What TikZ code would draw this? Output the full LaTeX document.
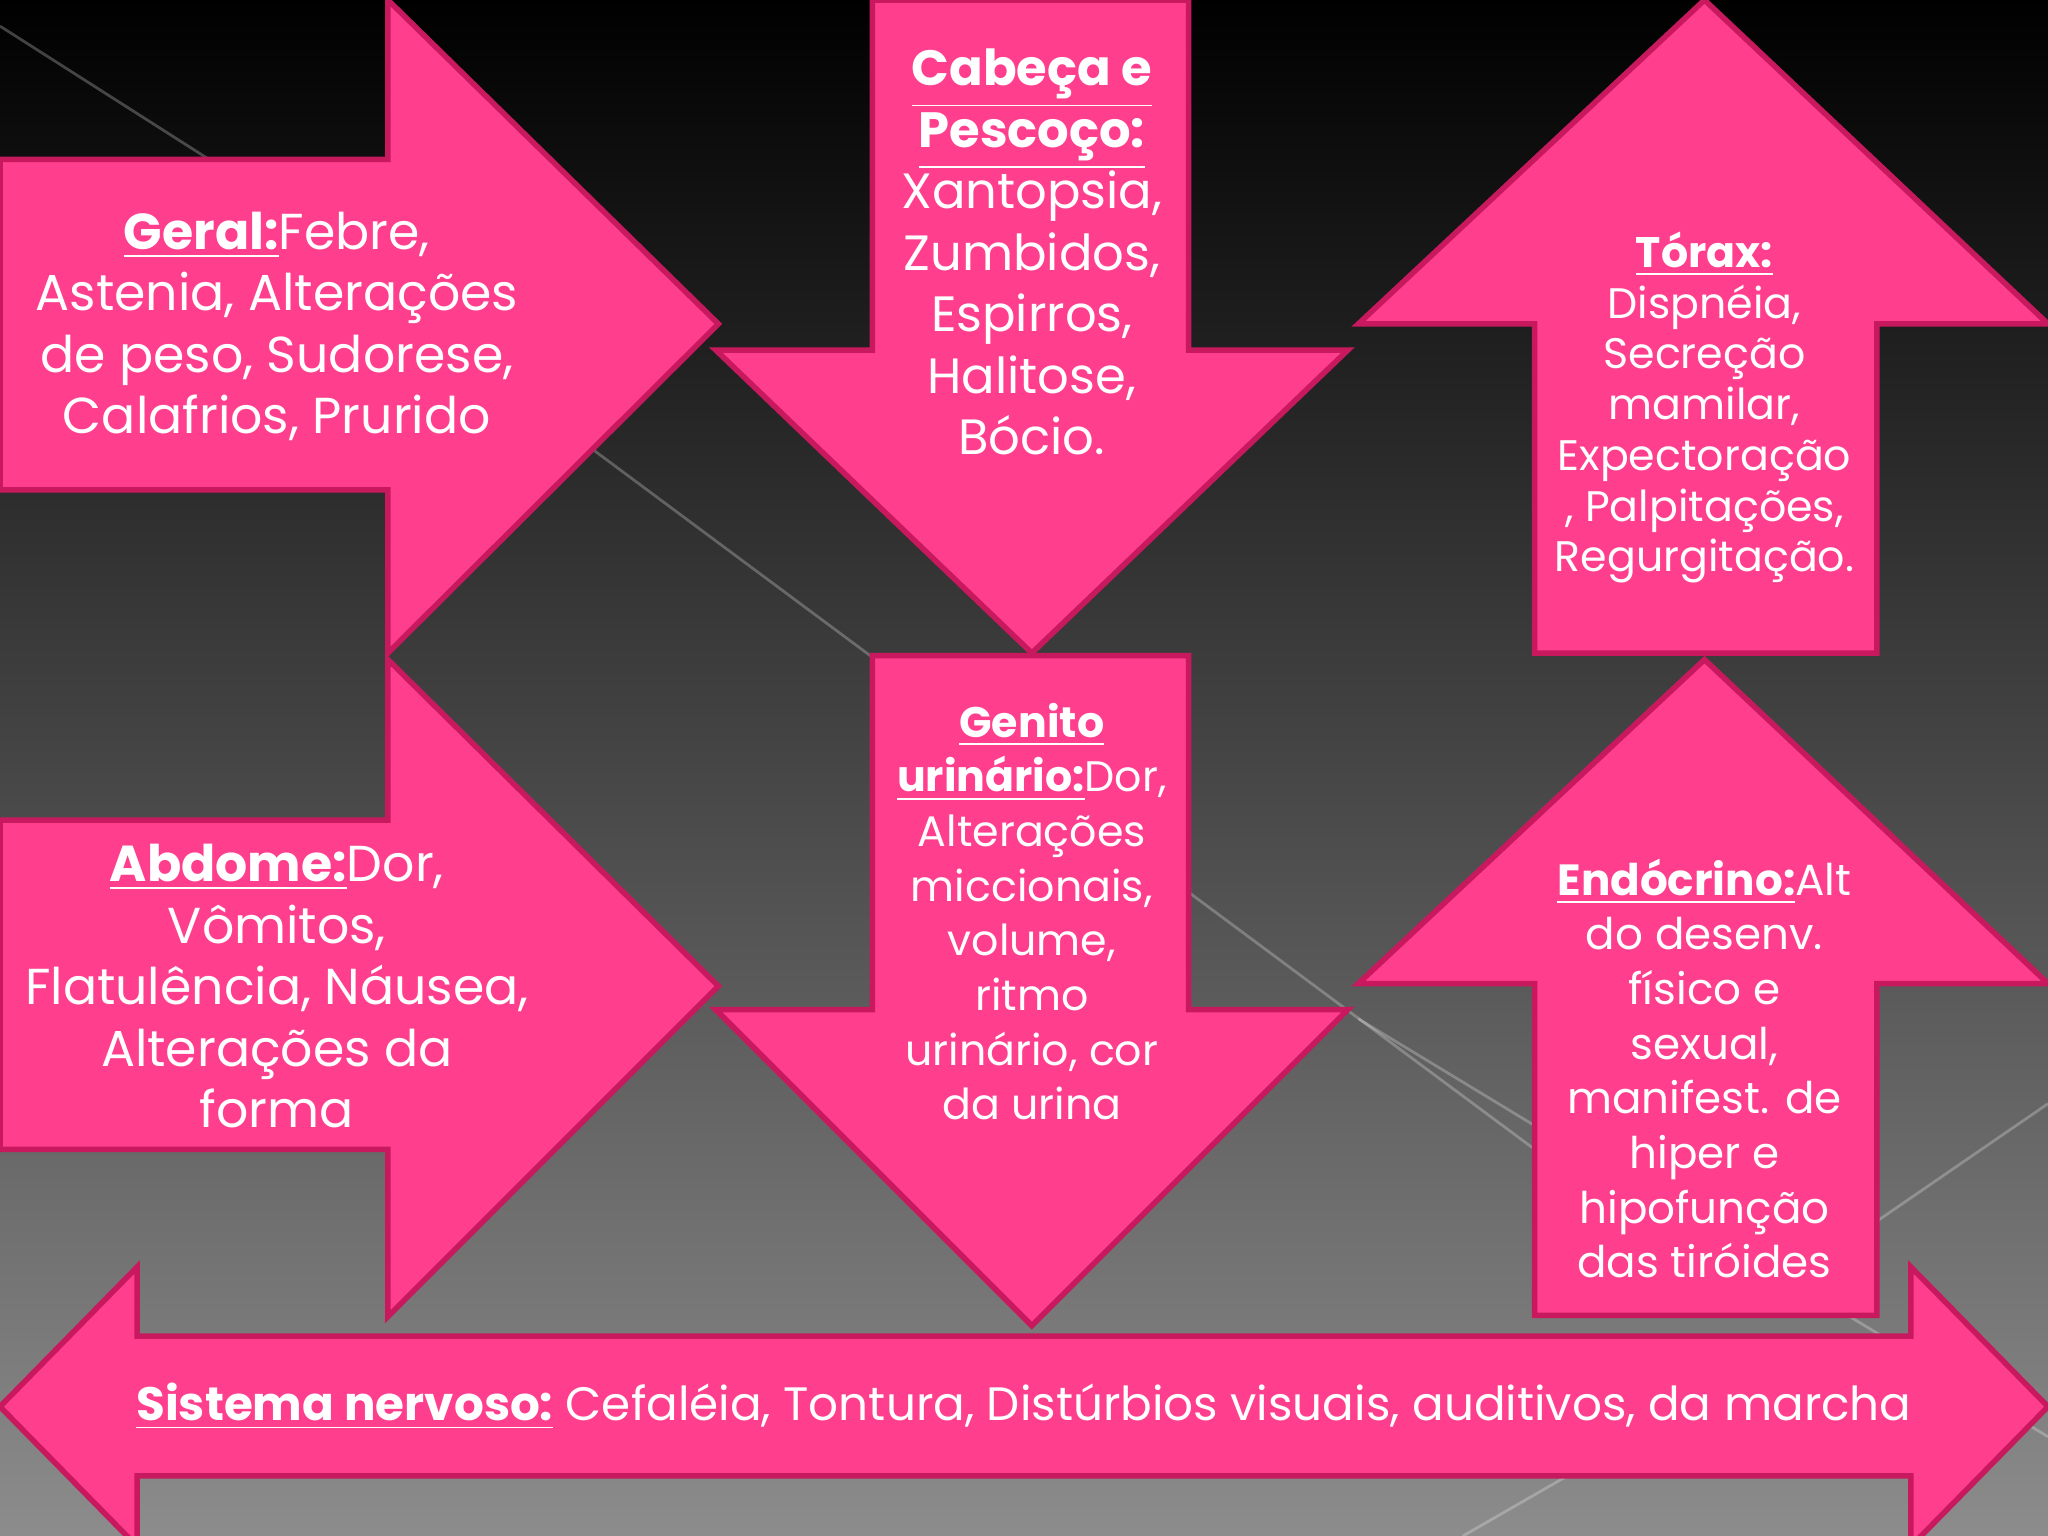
\documentclass[tikz,border=0pt]{standalone}
\usepackage{fontspec}
\setmainfont{Poppins}
\definecolor{pk}{HTML}{FF3E8E}
\definecolor{pkd}{HTML}{C8195E}
\begin{document}
\begin{tikzpicture}[x=0.01cm,y=-0.01cm,
  arr/.style={fill=pk,draw=pkd,line width=1.2pt,line join=miter},
  txt/.style={text=white,align=center,inner sep=0pt},
  bgl/.style={draw=white,opacity=0.25,line width=0.6pt}]
\fill[top color=black,bottom color=black!45] (0,0) rectangle (1568,1176);
\useasboundingbox (0,0) rectangle (1568,1176);
\draw[bgl] (0,20) -- (160,122);
\draw[bgl] (455,345) -- (1175,880);
\draw[bgl] (1040,780) -- (1568,1100);
\draw[bgl] (1437,935) -- (1568,845);
\draw[bgl] (1120,1176) -- (1200,1130);
% arrows
\draw[arr] (0,122)--(297,122)--(297,0)--(550,248)--(297,500)--(297,375)--(0,375)--cycle;
\draw[arr] (0,628)--(297,628)--(297,505)--(550,755)--(297,1008)--(297,880)--(0,880)--cycle;
\draw[arr] (668,0)--(910,0)--(910,268)--(1032,268)--(790,500)--(548,268)--(668,268)--cycle;
\draw[arr] (668,502)--(910,502)--(910,773)--(1032,773)--(790,1015)--(548,773)--(668,773)--cycle;
\draw[arr] (1175,500)--(1175,248)--(1040,248)--(1305,0)--(1568,248)--(1437,248)--(1437,500)--cycle;
\draw[arr] (1175,1007)--(1175,753)--(1040,753)--(1305,505)--(1568,753)--(1437,753)--(1437,1007)--cycle;
\draw[arr] (105,1023)--(1463,1023)--(1463,970)--(1568,1077)--(1463,1184)--(1463,1130)--(105,1130)--(105,1184)--(0,1077)--(105,970)--cycle;
% texts
\node[txt,font=\fontsize{11}{13.4}\selectfont] (geral) at (212,250) {\textbf{\underline{Geral:}}Febre,\\Astenia, Alterações\\de peso, Sudorese,\\Calafrios, Prurido};
\node[txt,font=\fontsize{11}{13.4}\selectfont] (abd) at (212,755) {\textbf{\underline{Abdome:}}Dor,\\Vômitos,\\Flatulência, Náusea,\\Alterações da\\forma};
\node[txt,font=\fontsize{10.8}{13.4}\selectfont] (cab) at (790,193) {\textbf{\underline{Cabeça e}}\\\textbf{\underline{Pescoço:}}\\Xantopsia,\\Zumbidos,\\Espirros,\\Halitose,\\Bócio.};
\node[txt,font=\fontsize{9.3}{11.9}\selectfont] (gen) at (790,698) {\textbf{\underline{Genito}}\\\textbf{\underline{urinário:}}Dor,\\Alterações\\miccionais,\\volume,\\ritmo\\urinário, cor\\da urina};
\node[txt,font=\fontsize{9.3}{11.05}\selectfont] (tor) at (1305,312) {\textbf{\underline{Tórax:}}\\Dispnéia,\\Secreção\\mamilar,\\Expectoração\\, Palpitações,\\Regurgitação.};
\node[txt,font=\fontsize{9.5}{11.9}\selectfont] (end) at (1305,818) {\textbf{\underline{Endócrino:}}Alt\\do desenv.\\físico e\\sexual,\\manifest. de\\hiper e\\hipofunção\\das tiróides};
\node[txt,font=\fontsize{10.2}{13.4}\selectfont] (sn) at (784,1077) {\textbf{\underline{Sistema nervoso:}} Cefaléia, Tontura, Distúrbios visuais, auditivos, da marcha};
\end{tikzpicture}
\end{document}
